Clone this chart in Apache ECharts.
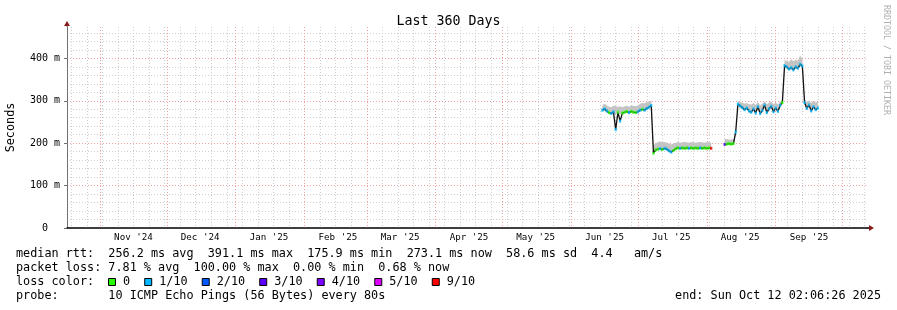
<!DOCTYPE html>
<html><head><meta charset="utf-8">
<script src="https://cdn.jsdelivr.net/npm/echarts@6/dist/echarts.min.js"></script>
<style>html,body{margin:0;padding:0;background:#fff}#c{width:897px;height:310px}</style>
</head><body><div id="c"></div>
<script>
// ---------- data ----------
const endLabel = 'end: Sun Oct 12 02:06:26 2025';
const rangeDays = 360;
const monthStarts = ['2024-11-01','2024-12-01','2025-01-01','2025-02-01','2025-03-01','2025-04-01','2025-05-01','2025-06-01','2025-07-01','2025-08-01','2025-09-01','2025-10-01'];
const monthLabelDates = ['2024-11-16','2024-12-16','2025-01-16','2025-02-16','2025-03-16','2025-04-16','2025-05-16','2025-06-16','2025-07-16','2025-08-16','2025-09-16'];
const monthLabels = ["Nov '24","Dec '24","Jan '25","Feb '25","Mar '25","Apr '25","May '25","Jun '25","Jul '25","Aug '25","Sep '25"];
const firstWeekLine = '2024-10-19';
const yTickLabels = {0:'0  ',100:'100 m',200:'200 m',300:'300 m',400:'400 m'};

const dates = [
 '2025-06-15','2025-06-16','2025-06-17','2025-06-18','2025-06-19','2025-06-20','2025-06-21','2025-06-22','2025-06-23','2025-06-24',
 '2025-06-25','2025-06-26','2025-06-27','2025-06-28','2025-06-29','2025-06-30','2025-07-01','2025-07-02','2025-07-03','2025-07-04',
 '2025-07-05','2025-07-06','2025-07-07','2025-07-08','2025-07-09','2025-07-10','2025-07-11','2025-07-12','2025-07-13','2025-07-14',
 '2025-07-15','2025-07-16','2025-07-17','2025-07-18','2025-07-19','2025-07-20','2025-07-21','2025-07-22','2025-07-23','2025-07-24',
 '2025-07-25','2025-07-26','2025-07-27','2025-07-28','2025-07-29','2025-07-30','2025-07-31','2025-08-01','2025-08-02','2025-08-03',
 '2025-08-06',
 '2025-08-09','2025-08-10','2025-08-11','2025-08-12','2025-08-13','2025-08-14','2025-08-15','2025-08-16','2025-08-17','2025-08-18',
 '2025-08-19','2025-08-20','2025-08-21','2025-08-22','2025-08-23','2025-08-24','2025-08-25','2025-08-26','2025-08-27','2025-08-28',
 '2025-08-29','2025-08-30','2025-08-31','2025-09-01','2025-09-02','2025-09-03','2025-09-04','2025-09-05','2025-09-06','2025-09-07',
 '2025-09-08','2025-09-09','2025-09-10','2025-09-11','2025-09-12','2025-09-13','2025-09-14','2025-09-15','2025-09-16','2025-09-17',
 '2025-09-18','2025-09-19','2025-09-20'];
const medianMs = [
 278,281,276,272,270,274,232,273,252,271,
 273,275,272,275,273,272,274,278,280,278,
 282,285,289,176,184,186,187,185,188,186,
 182,179,183,187,189,188,189,188,189,188,
 189,188,189,188,189,188,189,188,189,188,
 null,
 197,198,199,198,199,226,292,288,284,279,
 283,276,273,281,271,286,270,277,290,272,
 281,287,274,283,275,289,296,383,380,375,
 378,373,380,377,386,382,296,282,290,276,
 286,279,283];
const smokeLowMs = [
 275,276,272,269,268,270,268,270,268,268,
 270,271,269,271,270,269,271,274,276,275,
 278,281,285,180,181,183,184,182,185,183,
 179,177,180,184,186,185,186,185,186,185,
 186,185,186,185,186,185,186,185,186,185,
 null,
 194,195,196,195,196,222,288,284,280,276,
 279,272,270,277,268,282,267,273,286,269,
 277,283,271,279,272,285,290,378,376,371,
 374,369,376,373,381,377,291,279,286,273,
 282,276,279];
const smokeHighMs = [
 290,293,289,286,285,288,287,286,287,285,
 287,288,286,289,288,287,289,293,295,294,
 297,299,301,196,199,203,204,202,203,201,
 199,197,199,201,203,201,202,203,202,201,
 203,202,201,202,203,202,201,203,202,201,
 null,
 209,210,208,209,208,232,299,297,296,293,
 295,292,291,295,290,297,289,293,299,292,
 296,298,292,296,291,299,302,396,394,392,
 398,393,397,395,407,398,304,297,301,294,
 300,296,299];
const lossTenths = [
 1,1,1,0,1,1,1,0,1,0,
 0,0,1,0,0,0,1,1,0,1,
 1,1,1,0,0,0,1,0,1,1,
 1,1,0,0,0,1,0,0,0,1,
 0,0,0,0,1,0,0,0,0,9,
 0,
 3,0,0,0,0,1,1,1,1,1,
 1,1,1,1,1,1,1,1,1,1,
 1,1,1,1,1,1,0,1,1,1,
 1,1,1,1,1,1,1,1,1,1,
 1,1,1];
const lossLevels = [0,1,2,3,4,5,9];
const lossLabels = ['0','1/10','2/10','3/10','4/10','5/10','9/10'];
const lossColors = ['#26ff00','#00b8ff','#0059ff','#5e00ff','#7e00ff','#dd00ff','#ff0000'];
const statsLine1 = 'median rtt:  256.2 ms avg  391.1 ms max  175.9 ms min  273.1 ms now  58.6 ms sd  4.4   am/s';
const statsLine2 = 'packet loss: 7.81 % avg  100.00 % max  0.00 % min  0.68 % now';
const probeLine = 'probe:       10 ICMP Echo Pings (56 Bytes) every 80s';

// ---------- helpers ----------
const toTs = s => { const [y,m,d] = s.split('-').map(Number); return new Date(y, m-1, d).getTime(); };
const endTime = new Date(2025, 9, 12, 2, 6, 26).getTime();
const startTime = endTime - rangeDays * 86400000;
const weekLines = [];
for (let t = toTs(firstWeekLine); t < endTime; t += 7*86400000) weekLines.push(t);
const MONO = '"DejaVu Sans Mono", "Liberation Mono", monospace';
const colorOf = lvl => lossColors[lossLevels.indexOf(lvl)];
const labelTs = monthLabelDates.map(toTs);

const ts = dates.map(toTs);
const baseData = ts.map((t,i) => [t, smokeLowMs[i]]);
const smokeData = ts.map((t,i) => [t, smokeLowMs[i] == null ? null : smokeHighMs[i] - smokeLowMs[i]]);
const medData = ts.map((t,i) => [t, medianMs[i]]);
const lossData = [];
ts.forEach((t,i) => { if (medianMs[i] != null) lossData.push({value:[t, medianMs[i]], itemStyle:{color: colorOf(lossTenths[i])}}); });

const chart = echarts.init(document.getElementById('c'), null, {renderer:'canvas', width:897, height:310});

const minorGrid = {color:'#cfcfcf', width:1, type:[1,2]};
const majorGrid = {color:'#f2a0a0', width:1, type:[1,2]};

// legend graphic
const graphics = [];
const rowFont = '11.8px ' + MONO;
const addText = (text, x, y, align) => graphics.push({type:'text', x, y, silent:true,
  style:{text, font: rowFont, fill:'#000', align: align || 'left', verticalAlign:'middle'}});
addText(statsLine1, 16, 254);
addText(statsLine2, 16, 268);
addText('loss color:', 16, 282);
let sx = 108;
lossLabels.forEach((lab, i) => {
  graphics.push({type:'rect', shape:{x: sx + 0.5, y: 278.5, width:7, height:7}, silent:true,
    style:{fill: lossColors[i], stroke:'#000', lineWidth:1}});
  addText(lab, sx + 15, 282);
  sx += (lab.length + 4.1) * 7.1;
});
addText(probeLine, 16, 296);
addText(endLabel, 881, 296, 'right');
graphics.push({type:'text', x: 886, y: 5, rotation: -Math.PI/2, silent:true,
  style:{text:'RRDTOOL / TOBI OETIKER', font:'8.3px ' + MONO, fill:'#b0b0b0', align:'left', verticalAlign:'middle'}});

const option = {
  animation:false,
  backgroundColor:'#ffffff',
  title:{text:'Last 360 Days', left:'center', top:10,
    textStyle:{fontFamily:MONO, fontSize:13.3, fontWeight:'normal', color:'#000'}},
  grid:{left:67, right:30, top:27, bottom:82, containLabel:false, outerBoundsMode:'none'},
  xAxis:[{
    // data axis (time), drawn invisibly
    type:'time', min:startTime, max:endTime,
    axisLine:{show:false}, axisTick:{show:false}, axisLabel:{show:false}, splitLine:{show:false}
  },{
    // weekly minor grid + month labels
    type:'value', min:startTime, max:endTime, scale:true, position:'bottom',
    axisLine:{show:true, onZero:false, lineStyle:{color:'#000', width:1.5}},
    axisTick:{show:false, customValues: weekLines},
    splitLine:{show:true, lineStyle: minorGrid},
    axisLabel:{show:true, customValues: labelTs, margin:5,
      fontFamily:MONO, fontSize:9.2, color:'#000',
      formatter:(v) => monthLabels[labelTs.indexOf(v)] || ''}
  },{
    // month major grid
    type:'value', min:startTime, max:endTime, scale:true, position:'bottom',
    axisLine:{show:false}, axisLabel:{show:false},
    axisTick:{show:false, customValues: monthStarts.map(toTs)},
    splitLine:{show:true, lineStyle: majorGrid}
  }],
  yAxis:[{
    type:'value', min:0, max:474, interval:100,
    name:'Seconds', nameLocation:'middle', nameRotate:90, nameGap:50,
    nameTextStyle:{fontFamily:MONO, fontSize:11.8, color:'#000'},
    axisLine:{show:true, lineStyle:{color:'#707070', width:1}},
    axisTick:{show:true, length:3, lineStyle:{color:'#707070'}},
    axisLabel:{margin:7, fontFamily:MONO, fontSize:10, color:'#000', showMaxLabel:false,
      formatter: v => (yTickLabels[v] !== undefined ? yTickLabels[v] : '')},
    splitLine:{show:true, showMinLine:false, showMaxLine:false, lineStyle: majorGrid},
    minorTick:{show:false, splitNumber:5},
    minorSplitLine:{show:true, lineStyle: minorGrid}
  }],
  graphic: graphics,
  series:[
    {type:'line', name:'smokeBase', xAxisIndex:0, data: baseData, stack:'smoke', symbol:'none', silent:true,
      lineStyle:{width:0, opacity:0}, connectNulls:false, z:2},
    {type:'line', name:'smoke', xAxisIndex:0, data: smokeData, stack:'smoke', symbol:'none', silent:true,
      lineStyle:{width:0, opacity:0}, areaStyle:{color:'#c4c4c4', opacity:1}, connectNulls:false, z:2},
    {type:'line', name:'median', xAxisIndex:0, data: medData, symbol:'none', silent:true,
      lineStyle:{color:'#111', width:1.3}, connectNulls:false, z:3},
    {type:'scatter', name:'loss', xAxisIndex:0, data: lossData, symbol:'rect', symbolSize:[2.2,3], silent:true, z:4}
  ]
};
chart.setOption(option);

// axis arrows
const p0 = chart.convertToPixel({gridIndex:0}, [startTime, 0]);
const p1 = chart.convertToPixel({gridIndex:0}, [endTime, 474]);
const arrows = [
  {type:'line', shape:{x1:p1[0], y1:p0[1], x2:p1[0]+3, y2:p0[1]}, style:{stroke:'#000', lineWidth:1.5}, silent:true},
  {type:'polygon', shape:{points:[[p1[0]+2, p0[1]-3],[p1[0]+2, p0[1]+3],[p1[0]+7, p0[1]]]}, style:{fill:'#8b1a1a'}, silent:true},
  {type:'line', shape:{x1:p0[0], y1:p1[1], x2:p0[0], y2:p1[1]-2}, style:{stroke:'#707070', lineWidth:1}, silent:true},
  {type:'polygon', shape:{points:[[p0[0]-3, p1[1]-1],[p0[0]+3, p1[1]-1],[p0[0], p1[1]-6]]}, style:{fill:'#8b1a1a'}, silent:true}
];
chart.setOption({graphic: graphics.concat(arrows)});
</script>
</body></html>
